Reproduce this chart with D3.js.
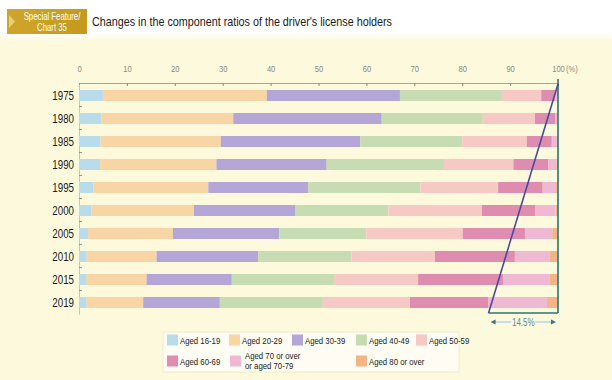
<!DOCTYPE html>
<html>
<head>
<meta charset="utf-8">
<script src="https://cdn.jsdelivr.net/npm/d3@7"></script>
<style>
  html, body { margin: 0; padding: 0; background: #fdf9dd; }
  svg { display: block; font-family: "Liberation Sans", Arial, sans-serif; }
</style>
</head>
<body>
<svg id="chart" width="612" height="380"></svg>
<script>
// Survey years (rows, top to bottom)
const years = ["1975", "1980", "1985", "1990", "1995", "2000", "2005", "2010", "2015", "2019"];

// Age groups (stack order, left to right)
const groups = ["Aged 16-19", "Aged 20-29", "Aged 30-39", "Aged 40-49", "Aged 50-59",
                "Aged 60-69", "Aged 70 or over or aged 70-79", "Aged 80 or over"];

// Share of license holders per age group (%), one array per group, aligned with years
const aged16to19 = [5.0, 4.7, 4.5, 4.4, 3.0, 2.6, 1.9, 1.6, 1.6, 1.6];
const aged20to29 = [34.2, 27.5, 25.1, 24.3, 24.0, 21.4, 17.7, 14.6, 12.5, 11.8];
const aged30to39 = [27.8, 31.0, 29.1, 23.0, 20.9, 21.1, 22.2, 21.2, 17.8, 16.0];
const aged40to49 = [21.1, 21.1, 21.3, 24.5, 23.4, 19.5, 18.2, 19.5, 21.5, 21.5];
const aged50to59 = [8.4, 10.9, 13.5, 14.5, 16.2, 19.5, 20.1, 17.4, 17.4, 18.2];
const aged60to69 = [2.9, 4.2, 5.2, 7.3, 9.3, 11.1, 13.0, 16.7, 17.8, 16.4];
const aged70to79 = [0.6, 0.6, 1.1, 1.7, 2.8, 4.3, 5.7, 7.3, 9.7, 12.2];
const aged80plus = [0.0, 0.0, 0.2, 0.3, 0.4, 0.5, 1.2, 1.7, 1.7, 2.3];

const seriesValues = [aged16to19, aged20to29, aged30to39, aged40to49,
                      aged50to59, aged60to69, aged70to79, aged80plus];

// Axis tick values (%)
const ticks = [0, 10, 20, 30, 40, 50, 60, 70, 80, 90, 100];

const colors = ["#b9dcec", "#f8d5a5", "#b5a6d8", "#c7dcb3", "#f6c9c4",
                "#df8cb1", "#efb9d3", "#f3b585"];

// Condensed lettering: horizontal squeeze around the anchor point
const NARROW = 0.8;
function narrow(sel, x, y, sx = NARROW) {
  return sel.attr("x", 0).attr("y", 0)
    .attr("transform", `translate(${x},${y}) scale(${sx},1)`);
}

// Rows for d3.stack
const rows = years.map((y, i) => {
  const r = { year: y };
  groups.forEach((g, k) => { r[g] = seriesValues[k][i]; });
  return r;
});
const stacked = d3.stack().keys(groups)(rows);

const svg = d3.select("#chart");

// Header strip
const defs = svg.append("defs");
const fade = defs.append("linearGradient").attr("id", "band").attr("x1", 0).attr("x2", 0).attr("y1", 0).attr("y2", 1);
fade.append("stop").attr("offset", 0.75).attr("stop-color", "#ffffff");
fade.append("stop").attr("offset", 1).attr("stop-color", "#fdf9dd");
svg.append("rect").attr("x", 0).attr("y", 0).attr("width", 612).attr("height", 42).attr("fill", "url(#band)");
const hdrGrad = defs.append("linearGradient").attr("id", "hdr").attr("x1", 0).attr("x2", 1);
hdrGrad.append("stop").attr("offset", 0).attr("stop-color", "#cfa62c");
hdrGrad.append("stop").attr("offset", 1).attr("stop-color", "#c49a1c");
svg.append("rect").attr("x", 7).attr("y", 9).attr("width", 80).attr("height", 25).attr("fill", "url(#hdr)");
svg.append("path").attr("d", "M9,15 L15,21.5 L9,28 Z").attr("fill", "#e8cf78");
narrow(svg.append("text"), 52, 19.5, 0.78).attr("text-anchor", "middle")
  .attr("fill", "#ffffff").attr("font-size", 10).text("Special Feature/");
narrow(svg.append("text"), 52, 30.5, 0.78).attr("text-anchor", "middle")
  .attr("fill", "#ffffff").attr("font-size", 10).text("Chart 35");
svg.append("text").attr("x", 92).attr("y", 26).attr("fill", "#1a1a1a").attr("font-size", 13.5)
  .attr("textLength", 300).attr("lengthAdjust", "spacingAndGlyphs")
  .text("Changes in the component ratios of the driver's license holders");

// Scales
const x = d3.scaleLinear().domain([0, 100]).range([79, 558]);
const y = d3.scaleBand().domain(years).range([84, 314]).paddingInner(0.52).paddingOuter(0.26);

// Top axis
const axisG = svg.append("g").attr("transform", "translate(0,83)")
  .call(d3.axisTop(x).tickValues(ticks).tickSize(-3).tickPadding(10).tickFormat(d => d));
axisG.select(".domain").attr("stroke", "#a8a590").attr("stroke-width", 1);
axisG.selectAll(".tick line").attr("stroke", "#8e8a70");
axisG.selectAll(".tick text").attr("fill", "#8a8a80").attr("font-size", 9.5)
  .attr("y", null).attr("dy", null)
  .attr("transform", `translate(0,-11) scale(${NARROW},1)`);
narrow(svg.append("text"), x(100) + 8, 72, NARROW).attr("fill", "#8a8a80")
  .attr("font-size", 9.5).text("(%)");

// Left axis with year labels
const yAxisG = svg.append("g").attr("transform", "translate(79,0)")
  .call(d3.axisLeft(y).tickSize(0).tickPadding(5));
yAxisG.select(".domain").attr("stroke", "#c8c5b0");
yAxisG.selectAll(".tick text").attr("fill", "#1a1a1a").attr("font-size", 12.5)
  .attr("x", null).attr("dy", "0.35em")
  .attr("transform", `translate(-5,0) scale(0.78,1)`);
// small separators between rows
svg.append("g").selectAll("line").data(years.slice(1)).join("line")
  .attr("x1", 79).attr("x2", 82)
  .attr("y1", d => y(d) - y.step() * y.paddingInner() / 2 - 0.5)
  .attr("y2", d => y(d) - y.step() * y.paddingInner() / 2 - 0.5)
  .attr("stroke", "#9a9680");

// Stacked bars
svg.append("g").selectAll("g").data(stacked).join("g")
  .attr("fill", (d, i) => colors[i])
  .selectAll("rect").data(d => d).join("rect")
  .attr("x", d => x(d[0]))
  .attr("y", d => y(d.data.year))
  .attr("width", d => Math.max(0, x(d[1]) - x(d[0])))
  .attr("height", y.bandwidth());

// Share aged 70+ in the latest year, bracketed at the bottom right
const last = years.length - 1;
const share70 = +(aged70to79[last] + aged80plus[last]).toFixed(1);
const topY = 84, botY = 313;
const bx = x(100 - share70);
svg.append("line").attr("x1", x(100)).attr("x2", x(100)).attr("y1", 79).attr("y2", botY)
  .attr("stroke", "#2b7474").attr("stroke-width", 1.6);
svg.append("line").attr("x1", bx).attr("x2", x(100)).attr("y1", botY).attr("y2", botY)
  .attr("stroke", "#2b7474").attr("stroke-width", 1.6);
svg.append("line").attr("x1", x(100)).attr("y1", topY).attr("x2", bx).attr("y2", botY)
  .attr("stroke", "#4a4a9c").attr("stroke-width", 1.6);

// Dimension arrow with label
const ay = 322;
svg.append("line").attr("x1", bx + 4).attr("x2", x(100) - 4).attr("y1", ay).attr("y2", ay)
  .attr("stroke", "#8fc7e0").attr("stroke-width", 1);
svg.append("path").attr("d", `M${bx + 2},${ay} l5,-2.5 v5 Z`).attr("fill", "#3e6f86");
svg.append("path").attr("d", `M${x(100) - 2},${ay} l-5,-2.5 v5 Z`).attr("fill", "#3e6f86");
svg.append("rect").attr("x", (bx + x(100)) / 2 - 12).attr("y", ay - 5).attr("width", 24).attr("height", 10)
  .attr("fill", "#fdf9dd");
narrow(svg.append("text"), (bx + x(100)) / 2, ay + 3.5, NARROW).attr("text-anchor", "middle")
  .attr("fill", "#5b8fa8").attr("font-size", 10).text(share70 + "%");

// Legend
const legend = svg.append("g");
legend.append("rect").attr("x", 163).attr("y", 332).attr("width", 296).attr("height", 40)
  .attr("fill", "#fffdf3").attr("stroke", "#ece6c4").attr("stroke-width", 0.8);
const legendItems = [
  { k: 0, x: 167, y: 340 }, { k: 1, x: 229, y: 340 }, { k: 2, x: 292, y: 340 },
  { k: 3, x: 356, y: 340 }, { k: 4, x: 416, y: 340 },
  { k: 5, x: 167, y: 361 }, { k: 6, x: 230, y: 361 }, { k: 7, x: 356, y: 361 }
];
legendItems.forEach(it => {
  legend.append("rect").attr("x", it.x).attr("y", it.y - 5.5).attr("width", 11).attr("height", 11)
    .attr("fill", colors[it.k]);
  if (it.k === 6) {
    narrow(legend.append("text"), it.x + 15, it.y - 2, 0.82).attr("font-size", 9.5)
      .attr("fill", "#1a1a1a").text("Aged 70 or over");
    narrow(legend.append("text"), it.x + 15, it.y + 8, 0.82).attr("font-size", 9.5)
      .attr("fill", "#1a1a1a").text("or aged 70-79");
  } else {
    narrow(legend.append("text"), it.x + 13, it.y + 3.5, 0.82).attr("font-size", 9.5)
      .attr("fill", "#1a1a1a").text(groups[it.k]);
  }
});
</script>
</body>
</html>
